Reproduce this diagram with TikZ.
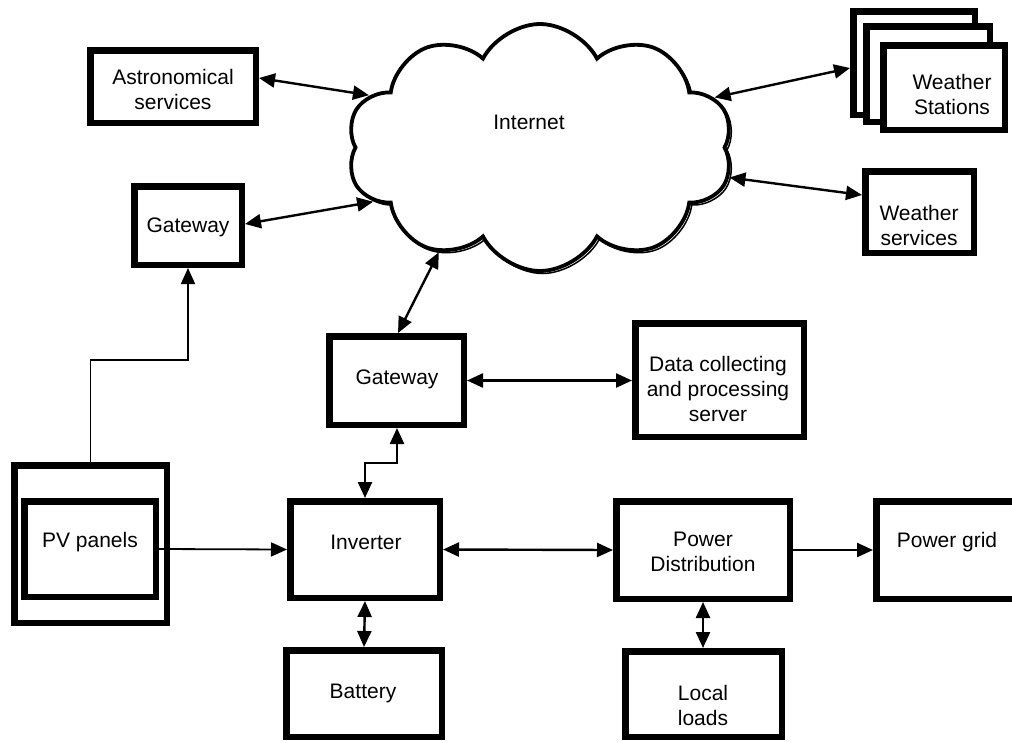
\documentclass[tikz,border=0pt]{standalone}
\usepackage{fontspec}
\setmainfont{Liberation Sans}
\usetikzlibrary{shapes.symbols,arrows.meta,calc}
\tikzset{
  box/.style={draw, line width=6.5pt, fill=white, inner sep=0pt},
  lbl/.style={font=\fontsize{21}{25}\selectfont, align=center, inner sep=0pt},
  tipA/.tip={Triangle[length=16pt,width=14pt]},
  dbl/.style={line width=2.4pt, tipA-tipA},
  sgl/.style={line width=2.4pt, -tipA},
  thin1/.style={line width=1.8pt, -tipA},
  netshape/.style={cloud, cloud puffs=10, cloud puff arc=125, cloud ignores aspect,
     minimum width=386pt, minimum height=247pt, inner sep=0pt}
}
\begin{document}
\begin{tikzpicture}[x=1pt,y=-1pt]
\useasboundingbox (0,0) rectangle (1012,742);
% cloud with slight shadow
\node[netshape, draw, line width=1.5pt] (netshadow) at (542.5,150) {};
\node[netshape, draw, line width=3.8pt, fill=white] (net) at (540,147.5) {};
\node[lbl] (tnet) at (529,122) {Internet};
% boxes
\node[box, minimum width=165.5, minimum height=72.5] (astro) at (173,86.5) {};
\node[lbl] (tastro) at (173,89) {Astronomical\\services};
\node[box, minimum width=107.5, minimum height=78.5] (gwL) at (188,225.5) {};
\node[lbl] (tgwL) at (188,227) {Gateway};
\node[box, minimum width=134.5, minimum height=88.5] (gwM) at (396.5,380.5) {};
\node[lbl] (tgwM) at (397,379) {Gateway};
\node[box, minimum width=168.5, minimum height=113.5] (data) at (719.5,380) {};
\node[lbl] (tdata) at (718,389) {Data collecting\\and processing\\server};
\node[box, minimum width=149.5, minimum height=96.5] (inv) at (365,549.5) {};
\node[lbl] (tinv) at (366,542) {Inverter};
\node[box, minimum width=173.5, minimum height=97.5] (pd) at (703,550) {};
\node[lbl] (tpd) at (703,552) {Power\\Distribution};
\node[box, minimum width=153.5, minimum height=97.5] (grid) at (953,550) {};
\node[lbl] (tgrid) at (947,542) {Power grid};
\node[box, minimum width=152.5, minimum height=157.5] (pvO) at (90.5,544) {};
\node[box, minimum width=131.5, minimum height=95.5] (pvI) at (90,549) {};
\node[lbl] (tpv) at (90,542) {PV panels};
\node[box, minimum width=155.5, minimum height=86.5] (bat) at (364,693.5) {};
\node[lbl] (tbat) at (363,693) {Battery};
\node[box, minimum width=156.5, minimum height=85.5] (loads) at (703.5,694) {};
\node[lbl] (tloads) at (703,705) {Local\\loads};
\node[box, minimum width=121.5, minimum height=103.5] (wsB) at (914,63) {};
\node[box, minimum width=123.5, minimum height=95.5] (wsM) at (928,74) {};
\node[box, minimum width=121.5, minimum height=84.5] (wsF) at (944,87.5) {};
\node[lbl] (tws) at (952,94) {Weather\\Stations};
\node[box, minimum width=108.5, minimum height=81.5] (wserv) at (919.5,212) {};
\node[lbl] (twserv) at (919,225) {Weather\\services};
% connectors
\draw[dbl] ([yshift=8.5pt]astro.east) -- (net.163.7);
\draw[dbl] ([yshift=1.5pt]gwL.east) -- (net.198);
\draw[dbl] (net.226.5) -- ([xshift=1.5pt]gwM.north);
\draw[dbl] (net.16.2) -- ([yshift=-5pt]wsB.west);
\draw[dbl] (net.-9.4) -- ([yshift=17pt]wserv.west);
\draw[dbl] (gwM.east) -- (data.west |- gwM.east);
\draw[dbl] ([xshift=0.5pt]gwM.south) -- ++(0,35) -| (inv.north);
\draw[dbl] (inv.east) -- (pd.west);
\draw[sgl] (pd.east) -- (grid.west);
\draw[thin1] (pvI.east) -- (inv.west);
\draw[thin1] (pvO.north) -- ++(0,-102) -| (gwL.south);
\draw[dbl] (inv.south) -- (bat.north);
\draw[dbl] (pd.south) -- (pd.south |- loads.north);
\end{tikzpicture}
\end{document}
